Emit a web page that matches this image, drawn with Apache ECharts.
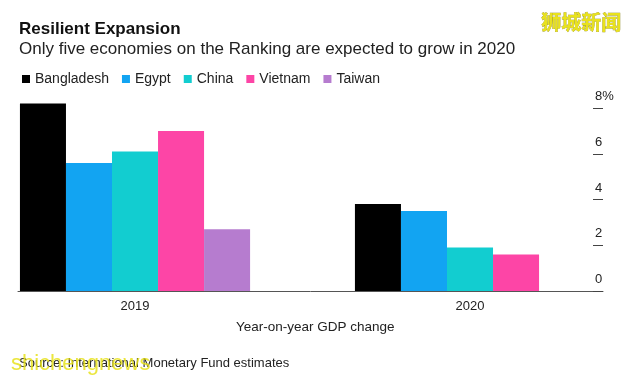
<!DOCTYPE html>
<html><head><meta charset="utf-8">
<script src="https://cdn.jsdelivr.net/npm/echarts@6/dist/echarts.min.js"></script>
<style>html,body{margin:0;padding:0;background:#fff}#c{width:640px;height:380px}</style>
</head><body><div id="c"></div>
<script>
const categories = ['2019', '2020'];
const seriesNames = ['Bangladesh', 'Egypt', 'China', 'Vietnam', 'Taiwan'];
const bangladesh = [8.2, 3.8];
const egypt = [5.6, 3.5];
const china = [6.1, 1.9];
const vietnam = [7.0, 1.6];
const taiwan = [2.7, 0];
const yTicks = [0, 2, 4, 6, 8];
const colors = ['#000000', '#12a4f2', '#12cdd0', '#fd45a6', '#b67ccf'];
const values = [bangladesh, egypt, china, vietnam, taiwan];
const years = categories.map(Number);

const FONT = 'Liberation Sans, Arial, Helvetica, sans-serif';
const chart = echarts.init(document.getElementById('c'));
chart.setOption({
  animation: false,
  color: colors,
  textStyle: { fontFamily: FONT },
  title: [
    { text: 'Resilient Expansion', left: 19, top: 21, padding: 0, textStyle: { fontSize: 17, fontWeight: 'bold', color: '#111', fontFamily: FONT } },
    { text: 'Only five economies on the Ranking are expected to grow in 2020', left: 19, top: 41, padding: 0, textStyle: { fontSize: 17, fontWeight: 'normal', color: '#222', fontFamily: FONT } },
    { text: 'Year-on-year GDP change', left: 236, top: 320, padding: 0, textStyle: { fontSize: 13.5, fontWeight: 'normal', color: '#222', fontFamily: FONT } },
    { text: 'Source: International Monetary Fund estimates', left: 19, top: 357, padding: 0, textStyle: { fontSize: 13, fontWeight: 'normal', color: '#222', fontFamily: FONT } }
  ],
  legend: {
    left: 17, top: 67, itemWidth: 8, itemHeight: 8, itemGap: 13, icon: 'rect',
    data: seriesNames,
    textStyle: { fontSize: 14, color: '#222', fontFamily: FONT }
  },
  grid: { left: 18, right: 37, top: 108, bottom: 89 },
  xAxis: {
    type: 'value', min: 2018.6507, max: 2020.397,
    axisLine: { show: true, onZero: false, lineStyle: { color: '#555', width: 1 } },
    axisTick: { show: false }, splitLine: { show: false },
    axisLabel: { customValues: years, fontSize: 13, color: '#222', margin: 9, formatter: v => String(v) }
  },
  yAxis: {
    type: 'value', position: 'right', min: yTicks[0], max: yTicks[yTicks.length - 1], interval: 2,
    axisLine: { show: false, onZero: false },
    axisTick: { show: true, inside: true, length: 10, lineStyle: { color: '#444' } },
    splitLine: { show: false },
    axisLabel: { margin: -8, fontSize: 13, color: '#222', align: 'left', verticalAlign: 'bottom', padding: [0, 0, 5, 0],
      formatter: v => v === 8 ? '8%' : String(v) }
  },
  series: seriesNames.map((n, i) => ({
    name: n, type: 'bar', clip: false,
    data: years.map((y, j) => [y, values[i][j]]),
    barGap: '0%', barCategoryGap: '31.3%',
    itemStyle: { color: colors[i] }
  })),
  graphic: [
    { type: 'text', left: 541, top: 12, z: 100,
      style: { text: '狮城新闻', font: 'bold 20px "Noto Sans CJK SC"', fill: '#e9e21c', stroke: '#8a8420', lineWidth: 0.5 } },
    { type: 'text', left: 11, top: 353, z: 100,
      style: { text: 'shichengnews', font: '22px ' + FONT, fill: 'rgba(232,226,28,0.85)' } }
  ]
});
</script></body></html>
